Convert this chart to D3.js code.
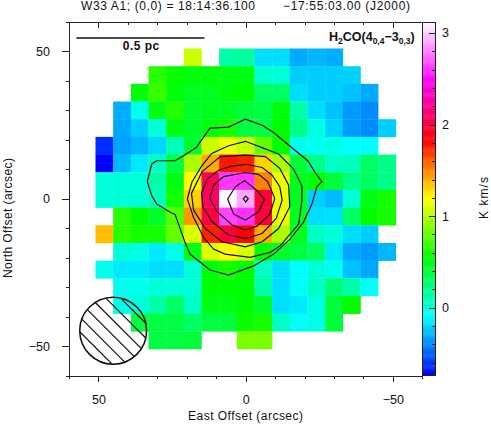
<!DOCTYPE html>
<html lang="en">
<head>
<meta charset="UTF-8">
<title>W33 A1 H2CO map</title>
<script src="https://d3js.org/d3.v7.min.js"></script>
<style>
  html, body { margin: 0; padding: 0; background: #fff; }
  svg { display: block; }
  text { font-family: "Liberation Sans", sans-serif; font-size: 12px; fill: #111; }
  .axis path, .axis line { stroke: #222; stroke-width: 1; shape-rendering: crispEdges; }
</style>
</head>
<body>
<div id="chart"></div>
<script>
// cell centres, arcsec
const xOffsets = [48, 42, 36, 30, 24, 18, 12, 6, 0, -6, -12, -18, -24, -30, -36, -42, -48];
const yOffsets = [48, 42, 36, 30, 24, 18, 12, 6, 0, -6, -12, -18, -24, -30, -36, -42, -48];

// integrated intensity, K km/s (top row first)
const _ = null;
const cellValues = [
  [_, _, _, _, _, 1.06, _, .12, .15, -.18, -.18, -.31, -.28, -.3, _, _, _],
  [_, _, _, .65, .57, .52, .52, .5, .5, .02, 0, -.22, -.22, -.22, -.21, _, _],
  [_, _, .52, .68, .52, .47, .47, .52, .55, .3, .3, -.18, -.22, -.22, -.25, -.31, _],
  [_, -.3, -.05, .5, .63, .44, .47, .47, .4, .38, .52, .12, -.18, -.25, -.35, -.39, _],
  [_, -.32, -.22, 0, .5, .44, .52, .6, .38, .38, .55, .2, -.02, -.21, -.35, -.39, -.22],
  [-.63, -.33, -.28, -.2, .08, .44, 1.06, 1.15, 1.06, .8, .55, -.05, -.05, -.03, -.1, -.1, _],
  [-.74, -.27, -.15, .05, .38, .98, 1.4, 1.78, 1.75, 1.3, .98, .4, .2, .05, .08, .3, .2],
  [0, 0, 0, .12, .5, 1.2, 2.05, 2.62, 2.6, 1.5, 1.15, .47, .55, .4, .2, .3, .2],
  [0, 0, 0, .08, .6, 1.3, 2.07, 3.1, 2.9, 1.98, 1.15, .47, -.22, -.27, 0, .5, .6],
  [_, .65, .55, .44, .75, 1.45, 2, 2.65, 2.6, 1.98, 1.15, .47, -.18, -.18, .3, .55, .6],
  [1.35, .65, .6, .6, .8, 1.1, 1.75, 1.98, 1.83, 1.4, .98, .47, .05, 0, -.18, -.22, _],
  [_, 0, -.03, -.15, -.03, .5, 1.1, 1.2, 1.1, .55, .44, .38, .3, -.15, -.32, -.35, -.28],
  [-.05, -.15, -.15, -.18, -.18, 0, .52, .6, .55, .05, -.18, -.1, 0, -.05, -.25, -.32, _],
  [_, -.05, -.05, 0, 0, 0, .55, .55, .55, .12, -.18, -.08, .05, .25, .12, -.08, _],
  [_, -.03, 0, .12, .3, .05, .5, .5, .55, .44, -.18, -.15, -.03, .4, .55, _, _],
  [_, _, .38, .38, .38, .3, .38, .4, .57, .6, .05, -.08, -.03, .4, _, _, _],
  [_, _, _, .38, .38, .4, _, _, .85, .85, _, _, _, _, _, _, _]
];

// contours, [east, north] arcsec
const contourLines = [
  [[33.4,5.9],[31.9,11.8],[30.2,12.9],[24,12.9],[21.1,14.6],[16.8,17.4],[12.1,24],[5.8,24.3],[0.1,27],[-5.5,25],[-9.5,22.5],[-15.1,17.8],[-21.1,12.9],[-23.6,8.9],[-25.9,5.8],[-24.2,4.1],[-22.5,-1.8],[-19.6,-8],[-15.1,-13.7],[-9.5,-18.8],[-2.7,-22.8],[5.8,-25.9],[12.1,-24.2],[18.9,-18.8],[20.6,-14.8],[23.4,-6.9],[23.9,-5.4],[25.6,-4.6],[30.2,-1.8],[31.9,1]],
  [[0.1,19.5],[-6,17.2],[-11.2,15.2],[-16.3,10.1],[-19.1,4.4],[-19.1,-0.7],[-18,-8.6],[-11.7,-16],[-8.3,-18.2],[-1.5,-19.9],[7,-18.8],[10.9,-17.1],[14.3,-13.1],[17.7,-6.3],[19.8,-0.1],[18.3,5.5],[14.9,11.2],[11.5,15.4],[5.8,18]],
  [[0.1,14.8],[-6.7,14.3],[-11.6,10.3],[-14.6,4.6],[-15,-2.7],[-11.2,-10.1],[-5.6,-14.6],[0.1,-16.3],[8,-14.6],[13.7,-10.1],[17.7,-3.8],[18.4,1.8],[14.8,9.2],[8.6,14.3]],
  [[0.1,11.7],[-5.6,10.6],[-9,8],[-11.6,4.1],[-12.4,-0.4],[-10.4,-6.7],[-5.6,-11.8],[0.1,-13.5],[5.8,-12.3],[11.4,-7.8],[14.5,-2.7],[15,1.8],[13.1,6.6],[9.2,9.7],[4.6,11.1]],
  [[0.1,8.9],[-4.4,8.3],[-7.5,5.8],[-9.9,0.1],[-8.2,-5.2],[-3.9,-9.3],[0.1,-10.6],[4.6,-8.9],[9.7,-4.4],[12.2,0.1],[10.9,4.6],[7.5,7.5]],
  [[0.3,6.1],[-3.6,3],[-6.4,-0.2],[-4.4,-4.4],[0.1,-7.2],[4.1,-5.2],[6.1,-0.1],[3.5,4.1]],
  [[0,0.9],[-0.9,0],[0,-1.1],[0.8,0]]
];

const xTicks = [60, 50, 40, 30, 20, 10, 0, -10, -20, -30, -40, -50, -60];
const xLabels = [50, 0, -50];
const cbTicks = [3, 2.8, 2.6, 2.4, 2.2, 2, 1.8, 1.6, 1.4, 1.2, 1, 0.8, 0.6, 0.4, 0.2, 0, -0.2, -0.4, -0.6];
const cbLabels = [3, 2, 1, 0];

// colour table
const cmapStops = [-0.74, -0.097, 0.547, 1.19, 1.83, 2.48, 3.12];
const cmapColors = ["#0000ff", "#00ffff", "#00ff00", "#ffff00", "#ff0000", "#ff00ff", "#ffffff"];

// beam and its hatching
const beam = { x: 45, y: -44.8, r: 11.35 };
const hatchOffsets = [11.7, 6.7, 1.6, -3.5, -8.6, -13.6];

const scaleBar = [57.5, 14];  // arcsec
const scaleBarY = 54.6;

const width = 491, height = 425;
const svg = d3.select("#chart").append("svg").attr("width", width).attr("height", height);

const x = d3.scaleLinear().domain([60, -60]).range([69, 422.3]);
const y = d3.scaleLinear().domain([60, -60]).range([22, 375.5]);
const color = d3.scaleLinear().domain(cmapStops).range(cmapColors).clamp(true);
const cb = d3.scaleLinear().domain([-0.74, 3.12]).range([375.5, 22]);
const minus = v => String(v).replace("-", "\u2212");

// cells
cellValues.forEach((row, j) => {
  row.forEach((v, i) => {
    if (v === null) return;
    svg.append("rect")
      .attr("x", x(xOffsets[i] + 3))
      .attr("y", y(yOffsets[j] + 3))
      .attr("width", x(xOffsets[i] - 3) - x(xOffsets[i] + 3) + 0.3)
      .attr("height", y(yOffsets[j] - 3) - y(yOffsets[j] + 3) + 0.3)
      .attr("fill", color(v));
  });
});

// contours
const line = d3.line().x(d => x(d[0])).y(d => y(d[1])).curve(d3.curveLinearClosed);
svg.append("g").selectAll("path").data(contourLines).join("path")
  .attr("d", line)
  .attr("fill", "none")
  .attr("stroke", "#111")
  .attr("stroke-width", 1.2);

// beam
svg.append("circle")
  .attr("cx", x(beam.x)).attr("cy", y(beam.y))
  .attr("r", x(beam.x - beam.r) - x(beam.x))
  .attr("fill", "none").attr("stroke", "#111").attr("stroke-width", 1.5);
hatchOffsets.forEach(c => {
  const half = Math.sqrt(beam.r * beam.r - c * c / 2) / Math.SQRT2;
  svg.append("line")
    .attr("x1", x(beam.x + c / 2 + half)).attr("y1", y(beam.y - c / 2 + half))
    .attr("x2", x(beam.x + c / 2 - half)).attr("y2", y(beam.y - c / 2 - half))
    .attr("stroke", "#111").attr("stroke-width", 1.2);
});

// frame + axes
function styleTicks(g, isMajor, minorLen, majorLen, attr) {
  g.selectAll(".tick line").attr(attr, d => (isMajor(d) ? majorLen : minorLen));
}
const isX = d => xLabels.includes(d);

const bottomAxis = svg.append("g").attr("class", "axis")
  .attr("transform", `translate(0,${y(-60)})`)
  .call(d3.axisBottom(x).tickValues(xTicks).tickSize(3).tickSizeOuter(0).tickPadding(17)
    .tickFormat(d => (isX(d) ? minus(d) : "")));
styleTicks(bottomAxis, isX, 3, 6, "y2");

const topAxis = svg.append("g").attr("class", "axis")
  .attr("transform", `translate(0,${y(60)})`)
  .call(d3.axisBottom(x).tickValues(xTicks).tickSize(3).tickSizeOuter(0).tickFormat(""));
styleTicks(topAxis, isX, 3, 6, "y2");

const leftAxis = svg.append("g").attr("class", "axis")
  .attr("transform", `translate(${x(60)},0)`)
  .call(d3.axisLeft(y).tickValues(xTicks).tickSize(3).tickSizeOuter(0).tickPadding(16)
    .tickFormat(d => (isX(d) ? minus(d) : "")));
styleTicks(leftAxis, isX, -3, -7, "x2");

svg.selectAll(".axis text").style("font-family", '"Liberation Sans", sans-serif').style("font-size", "12.5px").style("fill", "#111");

// colour bar
const cbSteps = d3.range(-0.74, 3.12, 0.01);
svg.append("g").selectAll("rect").data(cbSteps).join("rect")
  .attr("x", 422.3).attr("width", 12.7)
  .attr("y", d => cb(d + 0.01))
  .attr("height", d => cb(d) - cb(d + 0.01) + 0.4)
  .attr("fill", d => color(d));
svg.append("rect").attr("x", 422.3).attr("y", 22).attr("width", 12.7).attr("height", 353.5)
  .attr("fill", "none").attr("stroke", "#222").attr("shape-rendering", "crispEdges");
const isCb = d => cbLabels.includes(d);
const cbAxis = svg.append("g").attr("class", "axis")
  .attr("transform", "translate(435,0)")
  .call(d3.axisRight(cb).tickValues(cbTicks).tickSize(-3).tickSizeOuter(0).tickPadding(7)
    .tickFormat(d => (isCb(d) ? d : "")));
cbAxis.select(".domain").remove();
styleTicks(cbAxis, isCb, -3, -6, "x2");
cbAxis.selectAll("text").style("font-family", '"Liberation Sans", sans-serif').style("font-size", "12.5px").style("fill", "#111");

// scale bar
svg.append("line")
  .attr("x1", x(scaleBar[0])).attr("x2", x(scaleBar[1]))
  .attr("y1", y(scaleBarY)).attr("y2", y(scaleBarY))
  .attr("stroke", "#111").attr("stroke-width", 1.5);
svg.append("text").attr("x", 141).attr("y", 49.5).attr("text-anchor", "middle").attr("textLength", 36.6)
  .style("font-weight", "bold").style("font-size", "12px").text("0.5 pc");

// titles
svg.append("text").attr("x", 81).attr("y", 10).attr("textLength", 174).text("W33 A1; (0,0) = 18:14:36.100");
svg.append("text").attr("x", 283).attr("y", 10).attr("textLength", 127).text("\u221217:55:03.00 (J2000)");
svg.append("text").attr("x", 245.5).attr("y", 420).attr("text-anchor", "middle").attr("textLength", 115).text("East Offset (arcsec)");
svg.append("text").attr("transform", "translate(12,218) rotate(-90)").attr("text-anchor", "middle").attr("textLength", 120).text("North Offset (arcsec)");
svg.append("text").attr("transform", "translate(488,198) rotate(-90)").attr("text-anchor", "middle").attr("textLength", 42).text("K km/s");

const mol = svg.append("text").attr("x", 329).attr("y", 41).style("font-size", "12.5px").style("font-weight", "bold");
mol.append("tspan").text("H");
mol.append("tspan").attr("dy", 3).style("font-size", "8.5px").text("2");
mol.append("tspan").attr("dy", -3).text("CO(4");
mol.append("tspan").attr("dy", 3).style("font-size", "8.5px").text("0,4");
mol.append("tspan").attr("dy", -3).text("\u22123");
mol.append("tspan").attr("dy", 3).style("font-size", "8.5px").text("0,3");
mol.append("tspan").attr("dy", -3).text(")");
</script>
</body>
</html>
